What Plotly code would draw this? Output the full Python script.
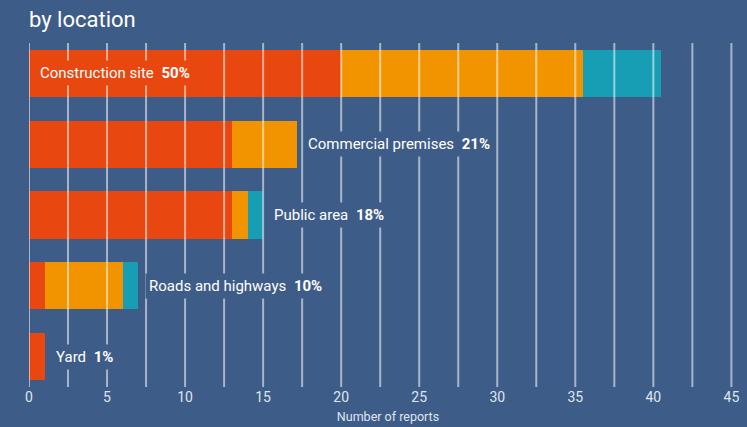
import plotly.graph_objects as go

# Reports by location, split into three stacked segments
locations = ["Construction site", "Commercial premises", "Public area",
             "Roads and highways", "Yard"]
shares = ["50%", "21%", "18%", "10%", "1%"]
seg_red = [20, 13, 13, 1, 1]
seg_orange = [15.5, 4.2, 1, 5, 0]
seg_teal = [5, 0, 1, 1, 0]

x_ticks = [0, 5, 10, 15, 20, 25, 30, 35, 40, 45]
grid_positions = [i * 2.5 for i in range(19)]

BG = "#3e5c88"
RED = "#e8470f"
ORANGE = "#f29400"
TEAL = "#179db4"
FONT = "Roboto"

fig = go.Figure()
for vals, col in [(seg_red, RED), (seg_orange, ORANGE), (seg_teal, TEAL)]:
    fig.add_trace(go.Bar(
        y=locations, x=vals, orientation="h", width=0.665,
        marker=dict(color=col, line=dict(width=0)),
        hoverinfo="skip", showlegend=False,
    ))

# vertical grid lines drawn on top of the bars
for gx in grid_positions:
    fig.add_shape(type="line", xref="x", yref="paper", x0=gx, x1=gx,
                  y0=0, y1=1, layer="above",
                  line=dict(color="rgba(255,255,255,0.55)", width=2))

# category labels with share percentages
totals = [r + o + t for r, o, t in zip(seg_red, seg_orange, seg_teal)]
for i, (name, share, tot) in enumerate(zip(locations, shares, totals)):
    inside = i == 0
    fig.add_annotation(
        x=0 if inside else tot, y=name, xref="x", yref="y",
        xanchor="left", yanchor="middle",
        xshift=7,
        text=f"{name}\u2002<b>{share}</b>",
        showarrow=False,
        font=dict(family=FONT, size=15, color="#ffffff"),
        bgcolor=RED if inside else BG,
        borderpad=3,
    )

# chart heading
fig.add_annotation(
    x=-0.003, y=1.067, xref="paper", yref="paper", text="by location",
    showarrow=False, font=dict(family=FONT, size=22, color="#ffffff"),
    xanchor="left", yanchor="middle",
)

fig.update_layout(
    width=747, height=427,
    margin=dict(l=29, r=0, t=43, b=40),
    paper_bgcolor=BG, plot_bgcolor=BG,
    barmode="stack", bargap=0,
    font=dict(family=FONT, color="#dfe5ee"),
    xaxis=dict(
        range=[0, 46], tickvals=x_ticks, showgrid=False, zeroline=False,
        showline=False, ticks="",
        tickfont=dict(family=FONT, size=14, color="#dfe5ee"),
        title=dict(text="Number of reports",
                   font=dict(family=FONT, size=12.5, color="#dfe5ee"),
                   standoff=8),
    ),
    yaxis=dict(
        range=[4.43, -0.43], showticklabels=False, showgrid=False,
        zeroline=False, showline=False, ticks="",
    ),
)

fig.write_html("out.html")
